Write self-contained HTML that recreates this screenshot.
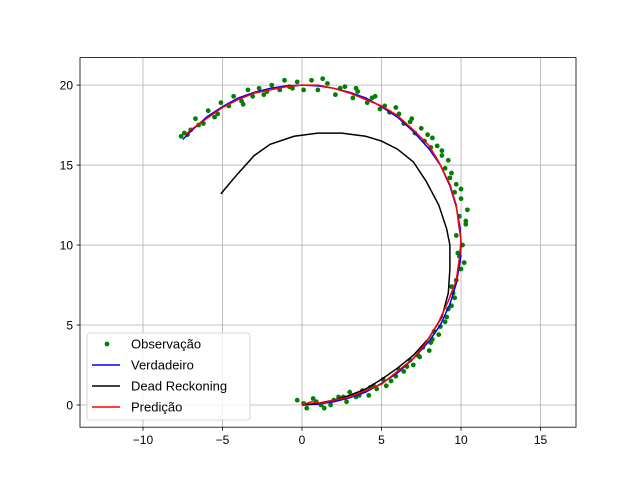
<!DOCTYPE html>
<html><head><meta charset="utf-8"><style>
body{margin:0;background:#fff;}
svg{display:block;font-family:"Liberation Sans","DejaVu Sans",sans-serif;}
</style></head><body>
<svg id="c" width="640" height="480" viewBox="0 0 640 480"></svg>
<script>
const xTicks=[-10,-5,0,5,10,15];
const yTicks=[0,5,10,15,20];
const trueX=[0,1,2,3,4,5,6,7,8,8.7,9.3,9.7,9.95,10,9.95,9.7,9.3,8.7,8,7,6,5,4,3,2,1,0,-1,-2,-3,-4,-5,-6,-7,-7.5];
const trueY=[0,0.05,0.2,0.45,0.8,1.35,2,2.9,4,5,6.3,7.6,9,10,11,12.4,13.7,15,16,17.1,18,18.65,19.2,19.55,19.8,19.95,20,19.95,19.8,19.55,19.2,18.65,18,17.1,16.6];
const predX=[0,0.6,1.2,2,3,4,5,6,7,7.8,8.6,9.2,9.7,9.9,10,9.85,9.7,9.3,8.6,8,7,6,5,4,3,2,1,0,-1,-2,-3,-4,-5,-6,-7,-7.3];
const predY=[0,0.2,0.1,0.3,0.5,0.9,1.3,2.1,2.9,3.9,5.2,6.5,7.8,9.2,10.3,11.3,12.5,13.8,15.2,16.2,17.2,18.1,18.7,19.1,19.5,19.8,20,20,19.9,19.7,19.5,19.1,18.6,17.9,17.2,16.9];
const drX=[0,1,2,3,4,5,6,7,8,8.8,9.2,9.3,9.3,9.1,8.6,7.8,7,6,5,4,2.5,1,-0.5,-2,-3,-4,-4.6,-5.1];
const drY=[0,0.1,0.3,0.6,1.0,1.6,2.3,3.1,4.2,5.5,7,8.5,10,11,12.5,14,15.2,16,16.5,16.8,17,17,16.8,16.3,15.6,14.5,13.8,13.2];
const obsX=[-0.3,0.3,0.7,1.2,1.4,2.0,2.3,2.8,3.0,3.4,3.8,4.2,4.5,4.7,5.1,5.3,5.9,6.1,6.4,6.8,7.0,7.3,7.6,8.0,8.2,8.3,8.6,9.0,9.1,9.4,9.6,9.4,9.7,10.0,10.2,9.8,10.1,9.7,10.3,9.9,10.4,10.0,9.6,9.7,9.3,9.0,9.2,8.8,8.5,8.1,8.2,7.7,7.5,7.1,6.8,6.4,6.1,5.5,5.2,4.9,4.4,4.1,3.5,3.2,2.4,2.1,1.6,1.0,0.6,0.1,-0.3,-0.6,-1.1,-1.4,-1.9,-2.2,-2.7,-3.1,-3.4,-3.8,-4.3,-4.6,-5.1,-5.3,-5.9,-6.2,-6.7,-7.0,-7.4,-7.6,
 0.1,0.9,1.8,2.6,3.6,4.3,5.6,6.6,7.4,8.1,8.7,9.2,9.5,9.9,10.3,10.0,9.4,8.8,7.9,6.9,5.9,4.6,3.4,2.7,1.3,-0.8,-2.4,-3.7,-5.5,-6.5,-7.2];
const obsY=[0.3,-0.2,0.4,0.0,-0.2,0.3,0.5,0.2,0.8,0.5,0.9,0.6,1.2,1.0,1.6,1.2,1.8,2.2,2.1,2.8,2.5,3.1,3.6,3.4,4.1,4.6,4.4,5.2,5.5,6.2,6.7,7.4,7.8,8.5,8.9,9.5,10.0,10.6,11.3,11.8,12.2,12.9,13.3,13.8,14.2,14.8,15.3,15.6,16.2,16.1,16.7,16.5,17.3,17.0,17.7,17.6,18.2,18.3,18.7,18.5,19.2,18.9,19.6,19.2,19.8,19.4,20.1,19.7,20.3,19.7,20.2,19.8,20.3,19.7,20.0,19.6,19.8,19.3,19.7,19.0,19.3,18.7,18.9,18.2,18.4,17.6,17.9,17.2,17.0,16.8,
 0.1,0.2,0.0,0.5,0.6,1.1,1.5,2.4,3.0,3.9,4.9,6.0,7.0,9.3,11.5,13.5,14.5,15.9,16.9,17.9,18.6,19.3,19.8,19.9,20.4,19.9,19.4,18.8,18.0,17.5,16.9];
const NS="http://www.w3.org/2000/svg";
const svg=document.getElementById('c');
const L=80,R=576,T=57.6,B=427.2;
const xmin=-13.96,xmax=17.23,ymin=-1.39,ymax=21.72;
const sx=v=>L+(v-xmin)/(xmax-xmin)*(R-L);
const sy=v=>B-(v-ymin)/(ymax-ymin)*(B-T);
function mk(t,a,p){const e=document.createElementNS(NS,t);for(const k in a)e.setAttribute(k,a[k]);(p||svg).appendChild(e);return e;}
for(const t of xTicks){
 const g=mk('line',{x1:sx(t),x2:sx(t),y1:T,y2:B,stroke:'#b0b0b0','stroke-width':0.8});
 
 
 mk('line',{x1:sx(t),x2:sx(t),y1:B,y2:B+3.5,stroke:'#000','stroke-width':0.8});
 const tx=mk('text',{x:sx(t),y:B+17,'font-size':12,'text-anchor':'middle'});
 tx.textContent=(t<0?'\u2212'+(-t):t);
 
 
}
for(const t of yTicks){
 const g=mk('line',{x1:L,x2:R,y1:sy(t),y2:sy(t),stroke:'#b0b0b0','stroke-width':0.8});
 
 
 mk('line',{x1:L-3.5,x2:L,y1:sy(t),y2:sy(t),stroke:'#000','stroke-width':0.8});
 const tx=mk('text',{x:L-7,y:sy(t)+4.5,'font-size':12,'text-anchor':'end'});
 tx.textContent=t;
 
 
}
for(let i=0;i<obsX.length;i++){
 const c=mk('circle',{cx:sx(obsX[i]),cy:sy(obsY[i]),r:2.4,fill:'green'});
 
 
}
function line(xs,ys,col,name){
 const p=mk('polyline',{points:xs.map((x,i)=>sx(x)+','+sy(ys[i])).join(' '),fill:'none',stroke:col,'stroke-width':1.5});
 
 
}
line(trueX,trueY,'blue','true-path-line');
line(drX,drY,'black','dead-reckoning-line');
line(predX,predY,'red','prediction-line');
const fr=mk('rect',{x:L,y:T,width:R-L,height:B-T,fill:'none',stroke:'#000','stroke-width':0.8});


const lg=mk('g',{});


mk('rect',{x:87,y:333,width:163,height:87,rx:3,fill:'#fff','fill-opacity':0.8,stroke:'#ccc','stroke-width':0.8},lg);
const ents=[['Observação','green',1],['Verdadeiro','blue',0],['Dead Reckoning','black',0],['Predição','red',0]];
ents.forEach((e,i)=>{
 const y=344+i*21;
 if(e[2])mk('circle',{cx:107,cy:y,r:2.4,fill:e[1]},lg);
 else mk('line',{x1:92,x2:120,y1:y,y2:y,stroke:e[1],'stroke-width':1.5},lg);
 const t=mk('text',{x:131,y:y+4.5,'font-size':13},lg);
 t.textContent=e[0];
 
 
});
</script>
</body></html>
